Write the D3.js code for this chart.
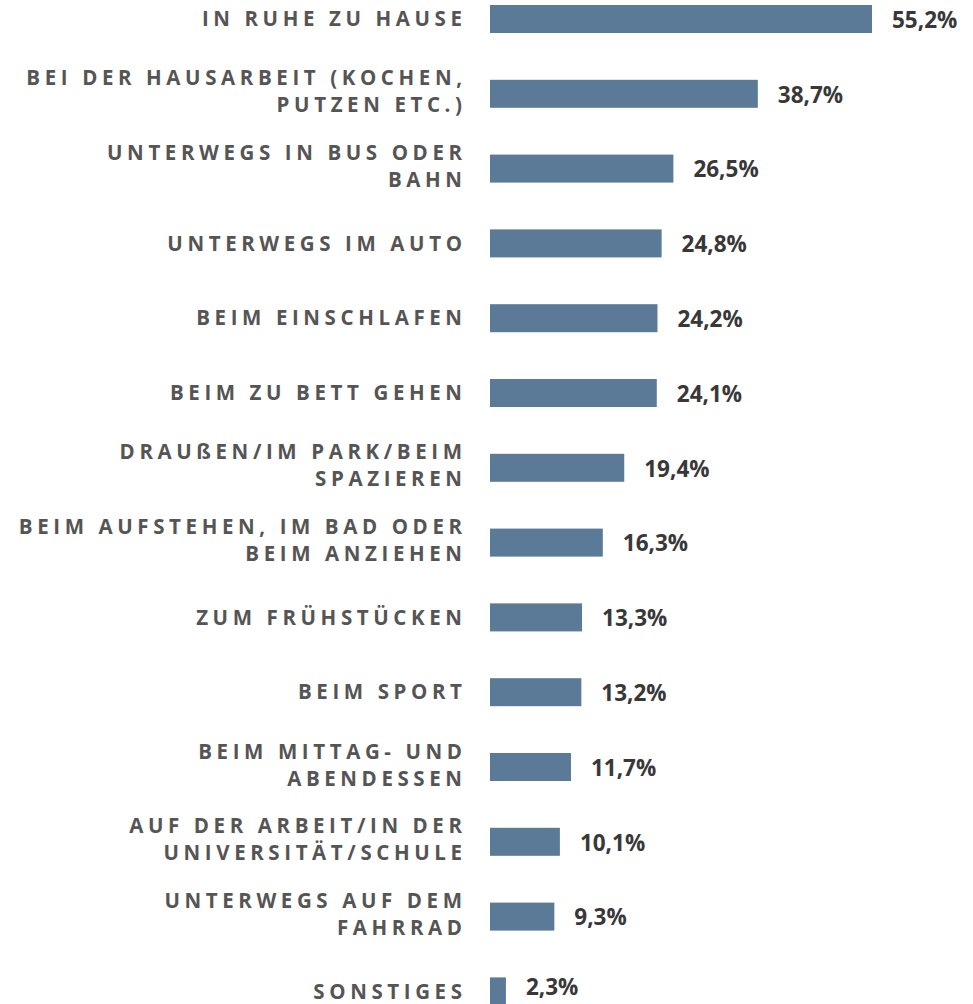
<!DOCTYPE html>
<html>
<head>
<meta charset="utf-8">
<script src="https://cdn.jsdelivr.net/npm/d3@7"></script>
<style>
  body { margin: 0; background: #fff; }
  svg { display: block; }
</style>
</head>
<body>
<div id="chart"></div>
<script>
// categories, line breaks marked with "|"
const categories = [
    "IN RUHE ZU HAUSE",
    "BEI DER HAUSARBEIT (KOCHEN,|PUTZEN ETC.)",
    "UNTERWEGS IN BUS ODER|BAHN",
    "UNTERWEGS IM AUTO",
    "BEIM EINSCHLAFEN",
    "BEIM ZU BETT GEHEN",
    "DRAUßEN/IM PARK/BEIM|SPAZIEREN",
    "BEIM AUFSTEHEN, IM BAD ODER|BEIM ANZIEHEN",
    "ZUM FRÜHSTÜCKEN",
    "BEIM SPORT",
    "BEIM MITTAG- UND|ABENDESSEN",
    "AUF DER ARBEIT/IN DER|UNIVERSITÄT/SCHULE",
    "UNTERWEGS AUF DEM|FAHRRAD",
    "SONSTIGES"
];
const values = [55.2, 38.7, 26.5, 24.8, 24.2, 24.1, 19.4, 16.3, 13.3, 13.2, 11.7, 10.1, 9.3, 2.3];

var width = 973,
    height = 1004,
    barLeft = 490,
    labelRight = 462,
    step = 74.8,
    barH = 28,
    ls = 4.6;

var svg = d3.select("#chart").append("svg")
    .attr("width", width)
    .attr("height", height);

var x = d3.scaleLinear()
    .domain([0, 55.2])
    .range([barLeft, 872]);

var pad = 1 - barH / step;
var y = d3.scaleBand()
    .domain(categories)
    .paddingInner(pad)
    .paddingOuter(pad)
    .range([5 - step * pad, 5 - step * pad + step * (categories.length + pad)]);

var data = categories.map((c, i) => ({ cat: c, value: values[i] }));

svg.selectAll(".bar")
    .data(data)
    .enter().append("rect")
    .attr("class", "bar")
    .attr("x", x(0))
    .attr("y", d => y(d.cat))
    .attr("width", d => x(d.value) - x(0))
    .attr("height", y.bandwidth())
    .style("fill", "#5b7a98");

svg.selectAll(".val")
    .data(data)
    .enter().append("text")
    .attr("class", "val")
    .attr("x", d => x(d.value) + 20)
    .attr("y", d => Math.min(y(d.cat) + y.bandwidth() / 2 + 1, 987))
    .attr("dy", ".35em")
    .style("font-family", "'Open Sans', sans-serif")
    .style("font-weight", "bold")
    .style("font-size", "22.5px")
    .style("fill", "#383838")
    .text(d => d3.format(".1f")(d.value).replace(".", ",") + "%");

var lbl = svg.selectAll(".lbl")
    .data(data)
    .enter().append("text")
    .attr("class", "lbl")
    .attr("text-anchor", "end")
    .style("font-family", "'Open Sans', sans-serif")
    .style("font-weight", "bold")
    .style("font-size", "20.5px")
    .style("letter-spacing", ls + "px")
    .style("fill", "#555555");

lbl.each(function(d) {
    var lines = d.cat.split("|");
    var cy = y(d.cat) + y.bandwidth() / 2;
    var lh = 27;
    var start = cy - (lines.length - 1) * lh / 2 - (lines.length > 1 ? 2 : 0);
    lines.forEach((ln, i) => {
        d3.select(this).append("tspan")
            .attr("x", labelRight + ls)
            .attr("y", start + i * lh)
            .attr("dy", ".35em")
            .text(ln);
    });
});
</script>
</body>
</html>
